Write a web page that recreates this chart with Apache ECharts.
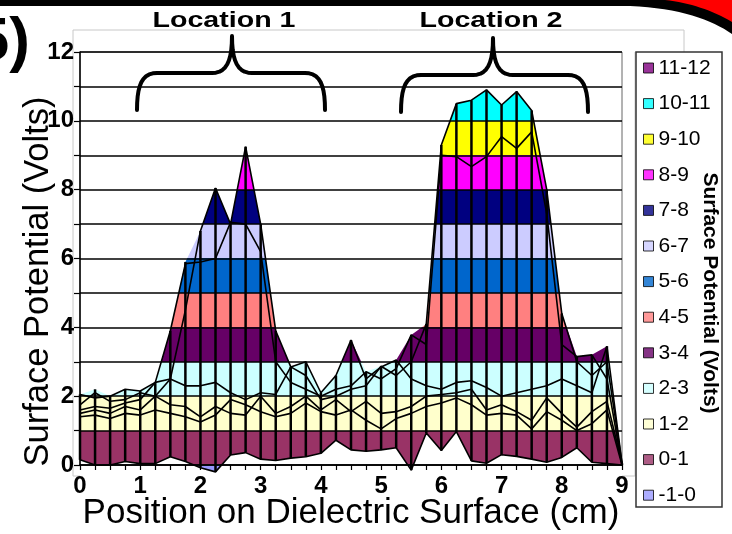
<!DOCTYPE html>
<html><head><meta charset="utf-8">
<script src="https://cdn.jsdelivr.net/npm/echarts@6/dist/echarts.min.js"></script>
<style>html,body{margin:0;padding:0;background:#fff}#c{width:732px;height:534px}</style>
</head><body><div id="c"></div>
<script>
// Position on dielectric surface (cm)
const positions = [0,0.25,0.5,0.75,1,1.25,1.5,1.75,2,2.25,2.5,2.75,3,3.25,3.5,3.75,4,4.25,4.5,4.75,5,5.25,5.5,5.75,6,6.25,6.5,6.75,7,7.25,7.5,7.75,8,8.25,8.5,8.75,9];
// lower and upper envelope of the surface (Volts)
const lower = [0.15,0.0,0.0,0.1,0.04,0.04,0.24,0.1,-0.08,-0.2,0.29,0.36,0.17,0.13,0.2,0.24,0.34,0.72,0.44,0.4,0.44,0.5,-0.15,0.93,0.42,0.97,0.12,0.05,0.3,0.25,0.17,0.08,0.22,0.5,0.08,0.04,0.0];
const upper = [2.05,2.2,2.0,2.2,2.15,2.4,3.9,5.9,6.8,8.05,7.0,9.25,7.0,3.9,2.85,3.0,2.1,2.6,3.63,2.71,2.87,3.05,3.78,4.1,9.3,10.5,10.6,10.9,10.46,10.85,10.3,8.0,4.4,3.15,3.2,3.45,0.05];
// individual surface rows
const rowB = [1.4,1.45,1.35,1.5,1.45,1.6,1.5,1.4,1.25,1.45,1.9,1.75,1.55,1.4,1.5,1.8,1.55,1.45,1.6,1.3,1.05,1.35,1.5,1.7,1.8,1.95,1.75,1.45,1.5,1.45,1.05,1.55,1.3,1.0,1.2,1.6,0.0];
const rowC = [1.75,2.1,1.85,1.9,2.1,2.0,1.75,1.7,1.4,1.7,1.5,1.45,2.0,1.5,1.7,2.0,1.6,1.9,1.55,1.85,1.5,1.55,1.7,2.0,2.05,2.1,2.2,1.6,1.75,1.55,1.3,1.95,1.5,1.1,1.55,1.85,0.05];
const rowD = [2.05,1.95,2.0,2.2,2.15,2.4,2.5,2.3,2.3,2.4,2.1,1.9,2.1,2.05,2.85,3.0,2.1,2.6,3.63,2.5,2.85,3.05,2.5,2.3,2.2,2.4,2.45,2.25,2.0,2.1,2.2,2.3,2.5,2.3,2.1,3.45,0.05];
const rowE = [1.6,1.7,1.65,1.8,1.9,2.4,3.9,5.85,5.9,6.0,7.05,7.0,6.2,3.0,2.4,2.2,2.0,2.2,2.3,2.71,2.5,2.8,3.78,3.5,9.0,8.96,8.67,8.96,9.54,9.2,9.68,7.3,3.5,3.15,3.2,2.5,0.0];
const rowF = [1.5,1.6,1.5,1.7,1.6,2.0,2.5,4.5,6.8,8.05,7.0,9.25,7.0,3.9,2.85,2.6,1.9,2.0,2.2,2.3,2.87,2.6,3.0,4.1,9.3,10.5,10.6,10.9,10.46,10.85,10.3,8.0,4.4,3.0,2.6,3.0,0.05];
// colour bands
const bandLabels = ['11-12','10-11','9-10','8-9','7-8','6-7','5-6','4-5','3-4','2-3','1-2','0-1','-1-0'];
const bandMins = [11,10,9,8,7,6,5,4,3,2,1,0,-1];
const bandColors = ['#800080','#00FFFF','#FFFF00','#FF00FF','#000080','#CCCCFF','#0066CC','#FF8080','#660066','#CCFFFF','#FFFFCC','#993366','#9999FF'];

const FF = '"Liberation Sans", Arial, sans-serif';
const pair = arr => positions.map((x, i) => [x, arr[i]]);
const rowLine = (name, arr) => ({
  name, type: 'line', data: pair(arr), symbol: 'none', clip: false, z: 3,
  lineStyle: { color: '#000', width: 1.6 }, silent: true
});

// decoration helpers (pixel-space drawing for braces and page border)
function cubic(p0, p1, p2, p3, n) {
  const pts = [];
  for (let k = 0; k <= n; k++) {
    const t = k / n, u = 1 - t;
    pts.push([u*u*u*p0[0] + 3*u*u*t*p1[0] + 3*u*t*t*p2[0] + t*t*t*p3[0],
              u*u*u*p0[1] + 3*u*u*t*p1[1] + 3*u*t*t*p2[1] + t*t*t*p3[1]]);
  }
  return pts;
}
function brace(x0, x1, xm, yb, yh, yt) {
  const r = 20;
  return [].concat(
    cubic([x0, yb], [x0, yh + 12], [x0 + 5, yh], [x0 + r, yh], 10),
    cubic([xm - r, yh], [xm - 6, yh], [xm, yh - 11], [xm, yt], 10),
    cubic([xm, yt], [xm, yh - 11], [xm + 6, yh], [xm + r, yh], 10),
    cubic([x1 - r, yh], [x1 - 5, yh], [x1, yh + 12], [x1, yb], 10)
  );
}
const cornerBlack = [[0, 0], [732, 0], [732, 34]].concat(cubic([732, 34], [712, 20], [680, 8], [630, 6], 16)).concat([[0, 6]]);
const cornerRed = [[665, 0], [732, 0], [732, 22]].concat(cubic([732, 22], [712, 10], [690, 3], [665, 0], 16));

const chart = echarts.init(document.getElementById('c'), null, { renderer: 'canvas' });
const series = [
  // coloured surface: filled from the upper envelope down, banded by value
  { name: 'band', type: 'line', data: pair(upper),
    symbol: 'none', clip: false, z: -2, lineStyle: { width: 0, opacity: 0 },
    areaStyle: { opacity: 1, origin: -1 } },
  // white below the lower envelope
  { name: 'lowerMask', type: 'line', data: pair(lower),
    symbol: 'none', clip: false, z: -1, lineStyle: { width: 0, opacity: 0 },
    areaStyle: { opacity: 1, color: '#fff', origin: -1 } },
  { name: 'lowerEnv', type: 'line', data: pair(lower),
    symbol: 'none', clip: false, z: 3, lineStyle: { color: '#000', width: 1.6 } },
  { name: 'mesh', type: 'custom', z: 1, clip: false,
    data: positions.map((x, i) => [x, lower[i], upper[i]]),
    encode: { x: 0, y: [1, 2] },
    renderItem: (params, api) => {
      const p1 = api.coord([api.value(0), api.value(1)]);
      const p2 = api.coord([api.value(0), api.value(2)]);
      return { type: 'line', shape: { x1: p1[0], y1: p1[1], x2: p2[0], y2: p2[1] },
        style: { stroke: '#000', lineWidth: 2.5 } };
    } },
  rowLine('rowB', rowB), rowLine('rowC', rowC), rowLine('rowD', rowD),
  rowLine('rowE', rowE), rowLine('rowF', rowF)
];
bandLabels.forEach((n, i) => series.push({ name: n, type: 'scatter', data: [], itemStyle: { color: bandColors[i] } }));

const option = {
  backgroundColor: '#fff',
  animation: false,
  grid: { left: 80, right: 110, top: 52, bottom: 69, show: true, borderColor: '#666', borderWidth: 1,
    outerBoundsMode: 'none', containLabel: false },
  xAxis: {
    type: 'value', min: 0, max: 9, interval: 1,
    axisLine: { onZero: true, lineStyle: { color: '#000', width: 1.5 } },
    axisTick: { length: 5, lineStyle: { color: '#000', width: 1.2 } },
    minorTick: { show: true, splitNumber: 4, length: 5, lineStyle: { color: '#000', width: 1.2 } },
    splitLine: { show: false },
    axisLabel: { margin: 9, fontSize: 24, fontWeight: 'bold', color: '#000', fontFamily: FF },
    name: 'Position on Dielectric Surface (cm)', nameLocation: 'middle', nameGap: 31,
    nameMoveOverlap: false,
    nameTextStyle: { fontSize: 35, color: '#000', fontFamily: FF }
  },
  yAxis: {
    type: 'value', min: 0, max: 12, interval: 1,
    axisLine: { show: true, lineStyle: { color: '#000', width: 1.5 } },
    axisTick: { show: true, length: 6, lineStyle: { color: '#000', width: 1.2 } },
    splitLine: { show: true, lineStyle: { color: '#000', width: 1.7 } },
    axisLabel: { margin: 6, fontSize: 24, fontWeight: 'bold', color: '#000', fontFamily: FF,
      formatter: v => (v % 2 === 0 ? String(v) : '') },
    name: 'Surface Potential (Volts)', nameLocation: 'middle', nameGap: 24,
    nameMoveOverlap: false,
    nameTextStyle: { fontSize: 34.5, color: '#000', fontFamily: FF, padding: [0, 46, 0, 0] }
  },
  visualMap: {
    type: 'piecewise', show: false, seriesIndex: 0, dimension: 1,
    pieces: bandMins.map((m, i) => ({ gte: m, lt: m + 1, color: bandColors[i] })),
    outOfRange: { color: '#fff' }
  },
  legend: {
    data: bandLabels, orient: 'vertical', left: 643, top: 57, padding: 0,
    itemWidth: 10, itemHeight: 10, itemGap: 13.6, icon: 'rect', selectedMode: false,
    itemStyle: { borderColor: '#000', borderWidth: 1 },
    textStyle: { fontSize: 21, lineHeight: 22, color: '#000', fontFamily: FF }
  },
  graphic: [
    { type: 'polyline', shape: { points: [[73, 476], [73, 30], [684, 30], [684, 52]] }, style: { stroke: '#c8c8c8', lineWidth: 1, fill: null }, z: -5 },
    { type: 'polyline', shape: { points: [[635, 52], [635, 476], [73, 476]] }, style: { stroke: '#c8c8c8', lineWidth: 1, fill: null }, z: -5 },
    { type: 'rect', shape: { x: 636, y: 52, width: 86, height: 455 }, style: { stroke: '#333', lineWidth: 1.5, fill: null } },
    { type: 'text', x: 710, y: 293, rotation: -Math.PI / 2,
      style: { text: 'Surface Potential (Volts)', font: 'bold 21px ' + FF, fill: '#000', align: 'center', verticalAlign: 'middle', textAlign: 'center', textVerticalAlign: 'middle' } },
    { type: 'polygon', shape: { points: cornerBlack }, style: { fill: '#000' } },
    { type: 'polygon', shape: { points: cornerRed }, style: { fill: '#ff0000' } },
    { type: 'text', x: 30, y: 74,
      style: { text: '5)', font: 'bold 62px ' + FF, fill: '#000', align: 'right', verticalAlign: 'bottom', textAlign: 'right', textVerticalAlign: 'bottom' } },
    { type: 'text', x: 224, y: 21, scaleX: 1.3,
      style: { text: 'Location 1', font: 'bold 22px ' + FF, fill: '#000', align: 'center', verticalAlign: 'middle', textAlign: 'center', textVerticalAlign: 'middle' } },
    { type: 'text', x: 491, y: 21, scaleX: 1.3,
      style: { text: 'Location 2', font: 'bold 22px ' + FF, fill: '#000', align: 'center', verticalAlign: 'middle', textAlign: 'center', textVerticalAlign: 'middle' } },
    { type: 'polyline', shape: { points: brace(137, 325, 232, 110, 73, 36) },
      style: { stroke: '#000', lineWidth: 4, fill: null, lineCap: 'round', lineJoin: 'round' } },
    { type: 'polyline', shape: { points: brace(401, 588, 493, 112, 75, 38) },
      style: { stroke: '#000', lineWidth: 4, fill: null, lineCap: 'round', lineJoin: 'round' } }
  ],
  series
};
chart.setOption(option);
</script>
</body></html>
